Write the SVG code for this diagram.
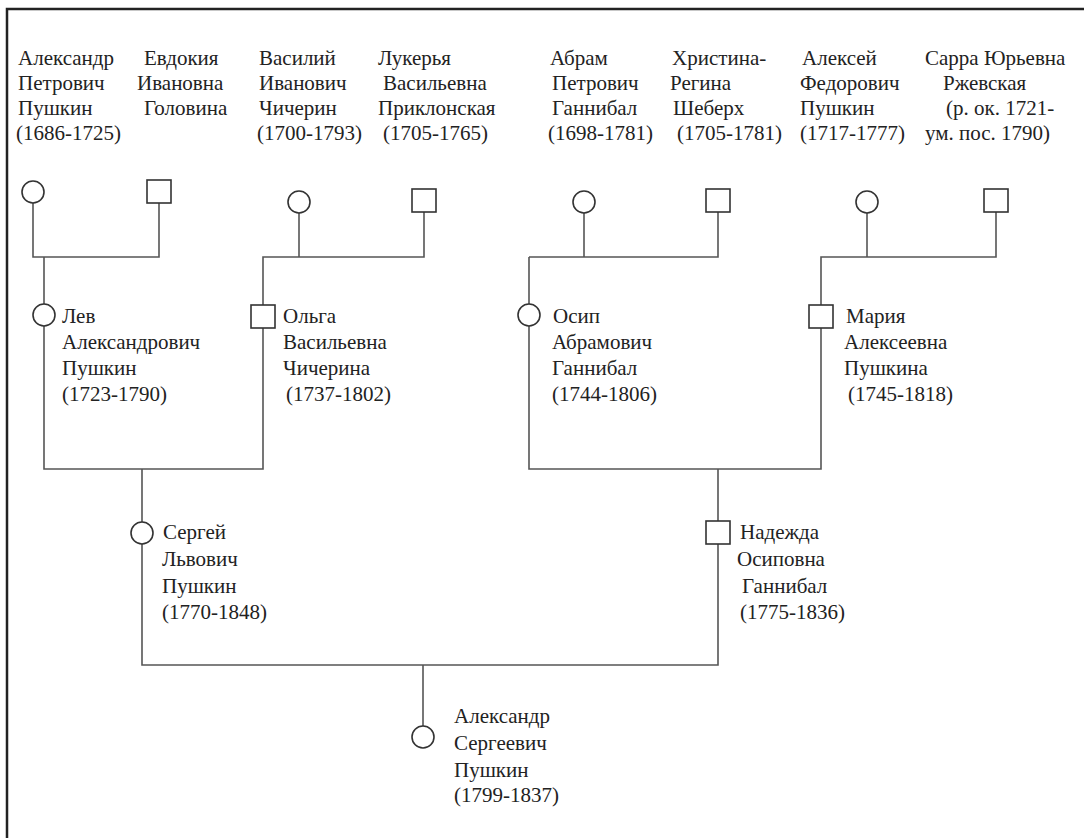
<svg xmlns="http://www.w3.org/2000/svg" width="1084" height="838" viewBox="0 0 1084 838">
<style>
text{font-family:"Liberation Serif","Times New Roman",serif;font-size:21px;fill:#222}
.ln{stroke:#555;stroke-width:1.6;fill:none}
.sym{stroke:#333;stroke-width:1.6;fill:#fff}
.frame{stroke:#222;stroke-width:2.5;fill:none}
</style>
<rect width="1084" height="838" fill="#fff"/>
<path class="frame" d="M7,838 V9 H1084"/>
<g id="connectors">
<path class="ln" d="M33,203 V257 H159 V203"/>
<path class="ln" d="M44,257 V469 H263 V257 H424 V212"/>
<path class="ln" d="M299,213 V257"/>
<path class="ln" d="M584,213 V257"/>
<path class="ln" d="M529,257 H718 V212"/>
<path class="ln" d="M529,257 V469 H821 V257 H996 V212"/>
<path class="ln" d="M867,213 V257"/>
<path class="ln" d="M142,469 V665 H718 V469"/>
<path class="ln" d="M423,665 V726"/>
</g>
<g id="n1"><circle class="sym" cx="33" cy="192" r="11"/><text x="18" y="65">Александр</text><text x="18" y="90">Петрович</text><text x="18" y="115">Пушкин</text><text x="16" y="140">(1686-1725)</text></g>
<g id="n2"><rect class="sym" x="147" y="180" width="24" height="23"/><text x="144" y="65">Евдокия</text><text x="137" y="90">Ивановна</text><text x="144" y="115">Головина</text></g>
<g id="n3"><circle class="sym" cx="299" cy="202" r="11"/><text x="259" y="65">Василий</text><text x="259" y="90">Иванович</text><text x="259" y="115">Чичерин</text><text x="257" y="140">(1700-1793)</text></g>
<g id="n4"><rect class="sym" x="412" y="189" width="24" height="23"/><text x="378" y="65">Лукерья</text><text x="383" y="90">Васильевна</text><text x="378" y="115">Приклонская</text><text x="383" y="140">(1705-1765)</text></g>
<g id="n5"><circle class="sym" cx="584" cy="202" r="11"/><text x="550" y="65">Абрам</text><text x="552" y="90">Петрович</text><text x="552" y="115">Ганнибал</text><text x="548" y="140">(1698-1781)</text></g>
<g id="n6"><rect class="sym" x="706" y="189" width="24" height="23"/><text x="672" y="65">Христина-</text><text x="670" y="90">Регина</text><text x="673" y="115">Шеберх</text><text x="677" y="140">(1705-1781)</text></g>
<g id="n7"><circle class="sym" cx="867" cy="202" r="11"/><text x="802" y="65">Алексей</text><text x="800" y="90">Федорович</text><text x="800" y="115">Пушкин</text><text x="800" y="140">(1717-1777)</text></g>
<g id="n8"><rect class="sym" x="984" y="189" width="24" height="23"/><text x="925" y="65">Сарра Юрьевна</text><text x="943" y="90">Ржевская</text><text x="946" y="115">(р. ок. 1721-</text><text x="925" y="140">ум. пос. 1790)</text></g>
<g id="n9"><circle class="sym" cx="44" cy="315" r="11"/><text x="62" y="323">Лев</text><text x="62" y="349">Александрович</text><text x="62" y="375">Пушкин</text><text x="62" y="401">(1723-1790)</text></g>
<g id="n10"><rect class="sym" x="251" y="305" width="24" height="23"/><text x="283" y="323">Ольга</text><text x="283" y="349">Васильевна</text><text x="283" y="375">Чичерина</text><text x="286" y="401">(1737-1802)</text></g>
<g id="n11"><circle class="sym" cx="529" cy="315" r="11"/><text x="553" y="323">Осип</text><text x="552" y="349">Абрамович</text><text x="552" y="375">Ганнибал</text><text x="552" y="401">(1744-1806)</text></g>
<g id="n12"><rect class="sym" x="809" y="305" width="24" height="23"/><text x="846" y="323">Мария</text><text x="844" y="349">Алексеевна</text><text x="844" y="375">Пушкина</text><text x="848" y="401">(1745-1818)</text></g>
<g id="n13"><circle class="sym" cx="142" cy="533" r="11"/><text x="163" y="539">Сергей</text><text x="162" y="566">Львович</text><text x="162" y="593">Пушкин</text><text x="162" y="619">(1770-1848)</text></g>
<g id="n14"><rect class="sym" x="706" y="521" width="24" height="23"/><text x="740" y="539">Надежда</text><text x="737" y="566">Осиповна</text><text x="742" y="593">Ганнибал</text><text x="740" y="619">(1775-1836)</text></g>
<g id="n15"><circle class="sym" cx="423" cy="737" r="11"/><text x="454" y="723">Александр</text><text x="454" y="750">Сергеевич</text><text x="454" y="777">Пушкин</text><text x="454" y="802">(1799-1837)</text></g>
</svg>
